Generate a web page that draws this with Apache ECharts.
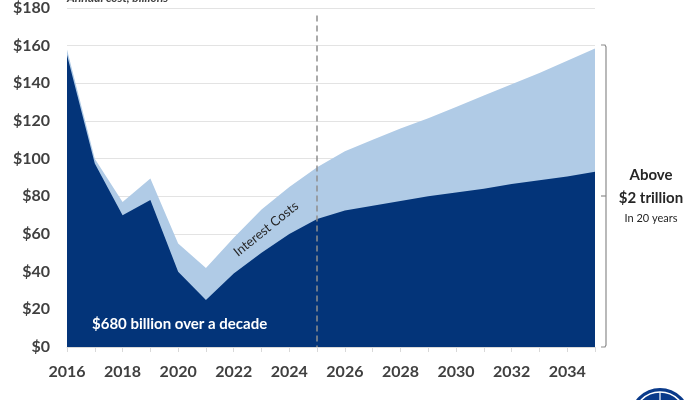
<!DOCTYPE html>
<html>
<head>
<meta charset="utf-8">
<script src="https://cdn.jsdelivr.net/npm/echarts@6/dist/echarts.min.js"></script>
<style>
html,body{margin:0;padding:0;background:#fff;}
#c{width:700px;height:400px;}
</style>
</head>
<body>
<div id="c"></div>
<script>
const years = ['2016','2017','2018','2019','2020','2021','2022','2023','2024','2025','2026','2027','2028','2029','2030','2031','2032','2033','2034','2035'];
const totalCost = [158, 100, 77, 89.5, 55, 42, 58, 73, 85, 95.5, 104, 110, 116, 121.5, 127.5, 133.5, 139.5, 145.5, 152, 158.5];
const principalCost = [155, 97.5, 70, 78, 40, 25, 39, 50, 60, 68, 72.5, 75, 77.5, 80, 82, 84, 86.5, 88.5, 90.5, 93];
const yTicks = [0, 20, 40, 60, 80, 100, 120, 140, 160, 180];
const projectionStart = '2025';

const chart = echarts.init(document.getElementById('c'));
const FONT = 'Lato';
chart.setOption({
  animation: false,
  grid: {left: 67, right: 105, top: 7, bottom: 53},
  xAxis: {
    type: 'category',
    data: years,
    boundaryGap: false,
    axisLine: {show: true, lineStyle: {color: '#d9d9d9'}},
    axisTick: {show: true, interval: 0, length: 5, lineStyle: {color: '#d9d9d9'}},
    axisLabel: {interval: 1, margin: 17, fontFamily: FONT, fontWeight: 'bold', fontSize: 16, color: '#404040'},
    splitLine: {show: false}
  },
  yAxis: {
    type: 'value',
    min: yTicks[0],
    max: yTicks[yTicks.length - 1],
    interval: 20,
    axisLine: {show: false},
    axisTick: {show: false},
    axisLabel: {margin: 17, fontFamily: FONT, fontWeight: 'bold', fontSize: 16, color: '#404040', formatter: v => '$' + v},
    splitLine: {lineStyle: {color: '#e3e3e3', width: 1}}
  },
  series: [
    {
      name: 'Total',
      type: 'line',
      data: totalCost,
      showSymbol: false,
      lineStyle: {width: 0},
      areaStyle: {color: '#b0cbe6', opacity: 1},
      z: 2
    },
    {
      name: 'Principal',
      type: 'line',
      data: principalCost,
      showSymbol: false,
      lineStyle: {width: 0},
      areaStyle: {color: '#033479', opacity: 1},
      z: 3,
      markLine: {
        silent: true,
        symbol: 'none',
        label: {show: false},
        lineStyle: {color: '#8f8f8f', type: [6, 4], width: 1.5},
        data: [[{coord: [projectionStart, 176]}, {coord: [projectionStart, 0]}]]
      }
    }
  ],
  graphic: [
    {type: 'text', left: 67, top: -8, style: {text: 'Annual cost, billions', font: 'italic bold 12px ' + FONT, fill: '#404040'}},
    {type: 'text', x: 266, y: 229, rotation: 0.68, style: {text: 'Interest Costs', font: '13px ' + FONT, fill: '#262626', align: 'center', verticalAlign: 'middle'}, z: 10},
    {type: 'text', x: 92, y: 324, style: {text: '$680 billion over a decade', font: 'bold 15px ' + FONT, fill: '#ffffff', verticalAlign: 'middle'}, z: 10},
    {type: 'polyline', shape: {points: [[601, 45], [605, 45], [606, 47], [606, 345], [605, 347], [601, 347]]}, style: {stroke: '#8c8c8c', lineWidth: 1.2, fill: null}, z: 10},
    {type: 'line', shape: {x1: 601, y1: 196, x2: 606, y2: 196}, style: {stroke: '#8c8c8c', lineWidth: 1.2}, z: 10},
    {type: 'text', x: 651, y: 175, style: {text: 'Above', font: 'bold 15px ' + FONT, fill: '#262626', align: 'center', verticalAlign: 'middle'}},
    {type: 'text', x: 651, y: 198, style: {text: '$2 trillion', font: 'bold 15px ' + FONT, fill: '#262626', align: 'center', verticalAlign: 'middle'}},
    {type: 'text', x: 651, y: 218, style: {text: 'In 20 years', font: '11px ' + FONT, fill: '#262626', align: 'center', verticalAlign: 'middle'}},
    {type: 'circle', shape: {cx: 660, cy: 418, r: 30}, style: {fill: '#0a3a8a'}},
    {type: 'circle', shape: {cx: 660, cy: 418, r: 26}, style: {fill: 'none', stroke: '#ffffff', lineWidth: 1.5}},
    {type: 'line', shape: {x1: 660, y1: 392, x2: 660, y2: 400}, style: {stroke: '#ffffff', lineWidth: 1.2}}
  ]
});
</script>
</body>
</html>
